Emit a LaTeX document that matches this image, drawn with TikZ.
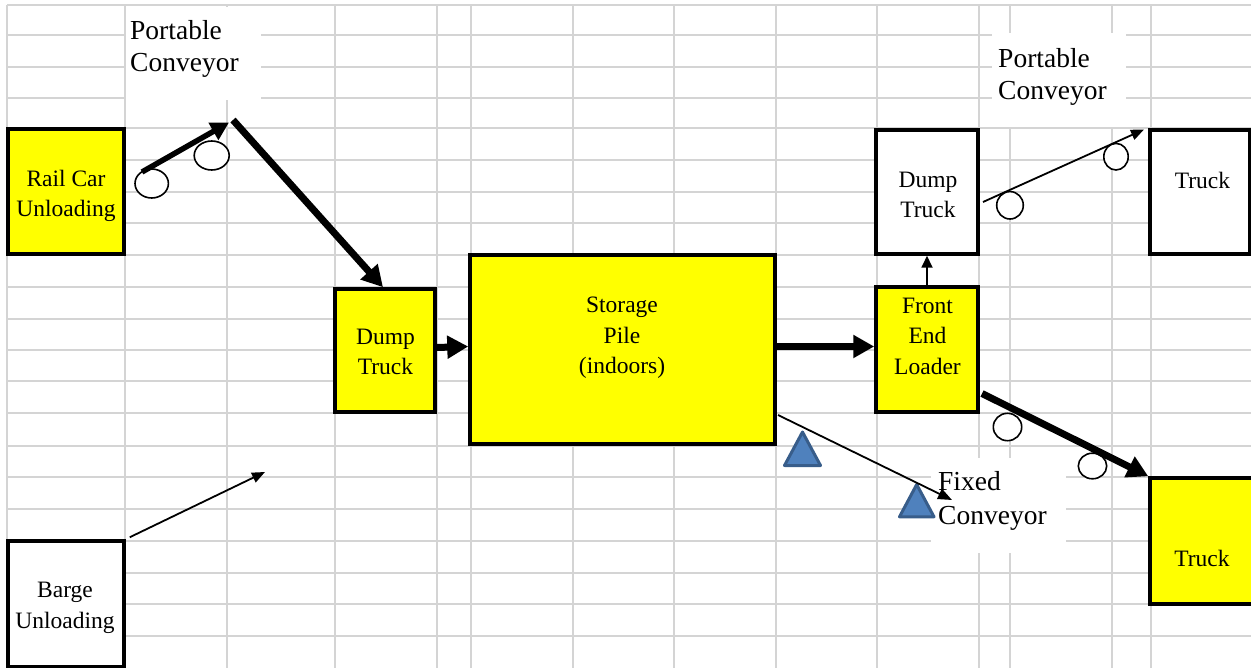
\documentclass[tikz,border=0pt]{standalone}
\usepackage{fontspec}
\setmainfont{Liberation Serif}
\usetikzlibrary{arrows.meta}
\definecolor{gridgray}{RGB}{212,212,212}
\definecolor{trifill}{RGB}{79,129,189}
\definecolor{tridraw}{RGB}{56,93,138}
\definecolor{boxyellow}{RGB}{255,255,0}
\begin{document}
\begin{tikzpicture}[x=1pt,y=-1pt,
  gridline/.style={draw=gridgray,line width=2pt},
  ybox/.style={draw=black,fill=boxyellow,line width=3.5pt,inner sep=0pt,outer sep=1.75pt},
  wbox/.style={draw=black,fill=white,line width=3.5pt,inner sep=0pt,outer sep=1.75pt},
  blank/.style={fill=white,draw=none,inner sep=0pt,outer sep=0pt},
  boxtext/.style={font=\fontsize{23.5}{30.5}\selectfont,align=center,inner sep=0pt},
  convtext/.style={font=\fontsize{27.5}{32}\selectfont,align=left,inner sep=0pt,anchor=west},
  roller/.style={draw=black,fill=white,line width=1.6pt},
  support/.style={draw=tridraw,fill=trifill,line width=3pt,line join=round},
  heavy/.style={line width=7pt,-{Triangle[length=21pt,width=22pt]}},
  medium/.style={line width=5.5pt,-{Triangle[length=18pt,width=19pt]}},
  light/.style={line width=1.8pt,-{Triangle[length=13pt,width=10.5pt]}},
]
\useasboundingbox (0,0) rectangle (1251,668);
\clip (0,0) rectangle (1251,668);
% grid
\foreach \x in {7,125,227,335,437,471,573,674,776,877,979,1010,1112,1151}
  \draw[gridline] (\x,5) -- (\x,668);
\foreach \y in {5,35,67,98,128,160,192,223,255,287,319,350,381,413,446,477,509,541,573,604,636}
  \draw[gridline] (7,\y) -- (1251,\y);
% white label areas
\node[blank,minimum width=135,minimum height=93,anchor=north west] (pcLbox) at (126,7) {};
\node[blank,minimum width=134,minimum height=94,anchor=north west] (pcRbox) at (992,33) {};
\node[blank,minimum width=135,minimum height=95,anchor=north west] (fcbox) at (931,458) {};
% boxes
\node[ybox,minimum width=116,minimum height=125] (rail) at (66,191.5) {};
\node[ybox,minimum width=100,minimum height=123] (dump) at (385,350.5) {};
\node[ybox,minimum width=305,minimum height=189] (pile) at (622.5,349.5) {};
\node[ybox,minimum width=102,minimum height=125] (fel) at (927,349.5) {};
\node[wbox,minimum width=102,minimum height=124] (dtr) at (927,192) {};
\node[wbox,minimum width=99.5,minimum height=124] (trkT) at (1199.75,192) {};
\node[ybox,minimum width=106,minimum height=126] (trkB) at (1203,541) {};
\node[wbox,minimum width=116,minimum height=126] (barge) at (66,604) {};
% box texts
\node[boxtext] (railT) at (66,196) {Rail Car\\Unloading};
\node[boxtext] (dumpT) at (385.5,352) {Dump\\Truck};
\node[boxtext] (pileT) at (622,338) {Storage\\Pile\\(indoors)};
\node[boxtext] (felT) at (927.5,336) {Front\\End\\Loader};
\node[boxtext] (dtrT) at (928,195) {Dump\\Truck};
\node[boxtext] (trkTT) at (1202.5,180) {Truck};
\node[boxtext] (trkBT) at (1202,558) {Truck};
\node[boxtext] (bargeT) at (65,608) {Barge\\Unloading};
% conveyor labels
\node[convtext] (pcLT) at (130,48.5) {Portable\\Conveyor};
\node[convtext] (pcRT) at (998,76.5) {Portable\\Conveyor};
\node[convtext,font=\fontsize{27.5}{34}\selectfont] (fcT) at (938,501) {Fixed\\Conveyor};
% rollers
\draw[roller] (151.7,183.5) ellipse [x radius=16.7,y radius=14.5];
\draw[roller] (211.7,155.5) ellipse [x radius=17.5,y radius=14.5];
\draw[roller] (1010,205.3) ellipse [x radius=13.3,y radius=13.7];
\draw[roller] (1116,156.7) ellipse [x radius=12.2,y radius=13.3];
\draw[roller] (1007.5,427) ellipse [x radius=14.2,y radius=13.7];
\draw[roller] (1092.5,466) ellipse [x radius=14.2,y radius=12.8];
% supports
\draw[support] (802.5,432) -- (784.5,465.5) -- (820.5,465.5) -- cycle;
\draw[support] (916.7,484.5) -- (899.5,516.8) -- (934,516.8) -- cycle;
% connector end points
\coordinate (c1s) at (142,172);
\coordinate (c1e) at (229,122.5);
\coordinate (c2s) at (233,120);
\coordinate (c3s) at (983,202);
\coordinate (c3e) at (1144,129.5);
\coordinate (c4s) at (982,393.5);
\coordinate (c5s) at (778,415);
\coordinate (c5e) at (952,500);
\coordinate (c6e) at (265,472);
% connectors
\draw[medium] (c1s) -- (c1e);
\draw[heavy] (c2s) -- ([xshift=-2pt]dump.north);
\draw[heavy] ([yshift=3pt]dump.east) -- ([yshift=3pt]pile.west);
\draw[heavy] ([yshift=3pt]pile.east) -- ([yshift=3pt]fel.west);
\draw[light,-{Triangle[length=12pt,width=11pt]}] (fel.north) -- (dtr.south);
\draw[light] (c3s) -- (c3e);
\draw[heavy] (c4s) -- (trkB.north west);
\draw[light,-{Triangle[length=14pt,width=11pt]}] (c5s) -- (c5e);
\draw[light] ([xshift=4pt,yshift=2pt]barge.north east) -- (c6e);
\end{tikzpicture}
\end{document}
